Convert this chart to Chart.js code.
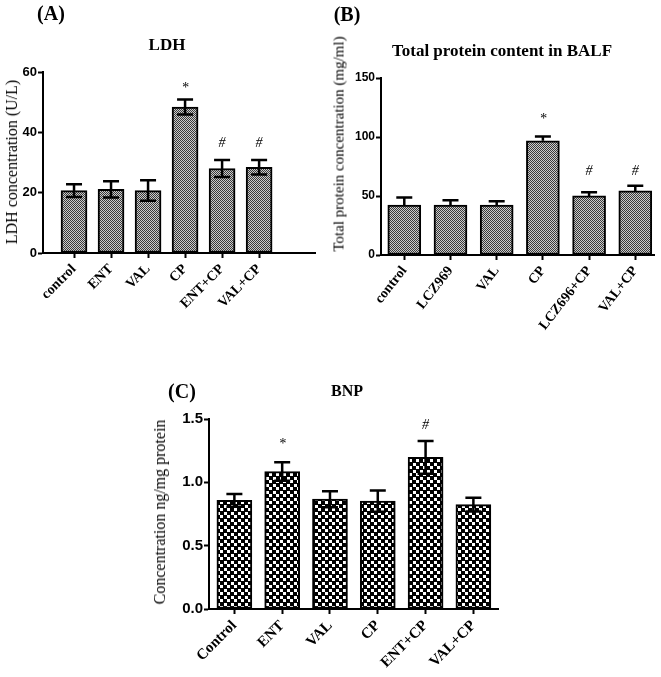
<!DOCTYPE html>
<html>
<head>
<meta charset="utf-8">
<script src="https://cdn.jsdelivr.net/npm/chart.js@4.4.1/dist/chart.umd.min.js"></script>
<style>
body{margin:0;background:#fff;}
#wrap{position:relative;width:661px;height:677px;overflow:hidden;font-family:"Liberation Serif","Times New Roman",serif;color:#000;}
canvas{position:absolute;}
.t{position:absolute;font-weight:bold;white-space:nowrap;transform:translate(-50%,-50%);}
.yt{position:absolute;white-space:nowrap;transform:translate(-50%,-50%) rotate(-90deg);}
</style>
</head>
<body>
<div id="wrap">
  <canvas id="cA" width="330" height="340" style="left:0;top:0"></canvas>
  <canvas id="cB" width="331" height="340" style="left:330px;top:0"></canvas>
  <canvas id="cC" width="360" height="337" style="left:150px;top:340px"></canvas>

  <div class="t" style="left:51px;top:13px;font-size:20px">(A)</div>
  <div class="t" style="left:167px;top:45px;font-size:17px">LDH</div>
  <div class="yt" style="left:12px;top:162px;font-size:16px">LDH concentration (U/L)</div>

  <div class="t" style="left:347px;top:14px;font-size:20px">(B)</div>
  <div class="t" style="left:502px;top:51px;font-size:17px">Total protein content in BALF</div>
  <div class="yt" style="left:339px;top:144px;font-size:15px">Total protein concentration (mg/ml)</div>

  <div class="t" style="left:182px;top:391px;font-size:20px">(C)</div>
  <div class="t" style="left:347px;top:391px;font-size:16px">BNP</div>
  <div class="yt" style="left:160px;top:512px;font-size:16px">Concentration ng/mg protein</div>
</div>
<script>
// (A) LDH
var catsA = ['control', 'ENT', 'VAL', 'CP', 'ENT+CP', 'VAL+CP'];
var ldh = [20.7, 21.1, 20.7, 48.4, 28.0, 28.4];
var ldhErr = [2.1, 2.7, 3.4, 2.5, 2.8, 2.4];
var ldhMark = ['', '', '', '*', '#', '#'];
var ldhMarkAt = [0, 0, 0, 54.6, 36.4, 36.4];
var ticksA = [0, 20, 40, 60];

// (B) total protein in BALF
var catsB = ['control', 'LCZ969', 'VAL', 'CP', 'LCZ696+CP', 'VAL+CP'];
var protein = [42.4, 42.4, 42.4, 96.8, 50.1, 54.3];
var proteinErr = [6.3, 4.0, 3.2, 3.6, 3.1, 4.3];
var proteinMark = ['', '', '', '*', '#', '#'];
var proteinMarkAt = [0, 0, 0, 115.4, 70.7, 70.7];
var ticksB = [0, 50, 100, 150];

// (C) BNP
var catsC = ['Control', 'ENT', 'VAL', 'CP', 'ENT+CP', 'VAL+CP'];
var bnp = [0.857, 1.085, 0.867, 0.852, 1.197, 0.824];
var bnpErr = [0.05, 0.073, 0.063, 0.084, 0.13, 0.055];
var bnpMark = ['', '*', '', '', '#', ''];
var bnpMarkAt = [0, 1.30, 0, 0, 1.45, 0];
var ticksC = [0, 0.5, 1.0, 1.5];

function fineGrey() {
  var t = document.createElement('canvas');
  t.width = 2; t.height = 2;
  var c = t.getContext('2d');
  c.fillStyle = '#cccccc'; c.fillRect(0, 0, 2, 2);
  c.fillStyle = '#3a3a3a'; c.fillRect(0, 0, 1, 1); c.fillRect(1, 1, 1, 1);
  return c.createPattern(t, 'repeat');
}
function checker() {
  var t = document.createElement('canvas');
  t.width = 7; t.height = 7;
  var c = t.getContext('2d');
  c.fillStyle = '#000'; c.fillRect(0, 0, 7, 7);
  c.fillStyle = '#fff'; c.fillRect(0, 0, 3, 3); c.fillRect(4, 4, 3, 3);
  return c.createPattern(t, 'repeat');
}

var errPlugin = {
  id: 'errbars',
  afterDatasetsDraw: function(chart, args, o) {
    var ctx = chart.ctx, xs = chart.scales.x, ys = chart.scales.y;
    var pts = chart.data.datasets[0].data;
    ctx.save();
    ctx.strokeStyle = '#000';
    ctx.fillStyle = '#000';
    ctx.lineWidth = 2.5;
    for (var i = 0; i < pts.length; i++) {
      var x = xs.getPixelForValue(i);
      var yv = ys.getPixelForValue(pts[i].y);
      var yt = ys.getPixelForValue(pts[i].y + o.err[i]);
      var yb = o.lower ? ys.getPixelForValue(pts[i].y - o.err[i]) : yv;
      ctx.beginPath();
      ctx.moveTo(x, yb); ctx.lineTo(x, yt);
      ctx.moveTo(x - o.cap / 2, yt); ctx.lineTo(x + o.cap / 2, yt);
      if (o.lower) { ctx.moveTo(x - o.cap / 2, yb); ctx.lineTo(x + o.cap / 2, yb); }
      ctx.stroke();
      if (o.marks[i]) {
        ctx.font = 'italic 14px "Liberation Serif"';
        ctx.textAlign = 'center';
        ctx.textBaseline = 'middle';
        ctx.fillText(o.marks[i], x, ys.getPixelForValue(o.markAt[i]));
      }
    }
    ctx.restore();
  }
};

function makeChart(id, cats, vals, errs, marks, markAt, yTicks, box, look) {
  return new Chart(document.getElementById(id), {
    type: 'bar',
    data: {
      datasets: [{
        data: vals.map(function(v, i) { return {x: i, y: v}; }),
        backgroundColor: look.fill,
        borderColor: '#000',
        borderWidth: 2,
        borderSkipped: false,
        barThickness: look.barW
      }]
    },
    plugins: [errPlugin],
    options: {
      responsive: false,
      devicePixelRatio: 1,
      animation: false,
      layout: {padding: {left: 0, top: box.top, right: box.right, bottom: 0}},
      plugins: {
        legend: {display: false},
        tooltip: {enabled: false},
        errbars: {err: errs, lower: look.lower, cap: 16, marks: marks, markAt: markAt}
      },
      scales: {
        x: {
          type: 'linear',
          offset: false,
          bounds: 'data',
          min: box.xmin, max: box.xmax,
          afterBuildTicks: function(s) { s.ticks = cats.map(function(c, i) { return {value: i}; }); },
          afterFit: function(s) { s.height = box.xh; s.paddingLeft = 0; s.paddingRight = 0; },
          grid: {offset: false, drawOnChartArea: false, drawTicks: true, tickLength: 5, tickColor: '#000', tickWidth: 2},
          border: {color: '#000', width: 2},
          ticks: {
            autoSkip: false, minRotation: look.rot, maxRotation: look.rot, padding: 3,
            color: '#000',
            font: {family: '"Liberation Serif"', weight: 'bold', size: look.xfont},
            callback: function(v) { return cats[v]; }
          }
        },
        y: {
          min: yTicks[0], max: yTicks[yTicks.length - 1],
          afterBuildTicks: function(s) { s.ticks = yTicks.map(function(v) { return {value: v}; }); },
          afterFit: function(s) { s.width = box.yw; s.paddingTop = 0; s.paddingBottom = 0; },
          grid: {drawOnChartArea: false, drawTicks: true, tickLength: 5, tickColor: '#000', tickWidth: 2},
          border: {color: '#000', width: 2},
          ticks: {
            padding: 1, color: '#000',
            font: {family: '"Liberation Sans"', weight: 'bold', size: look.yfont},
            callback: function(v) { return look.dec ? v.toFixed(look.dec) : v; }
          }
        }
      }
    }
  });
}

var grey = fineGrey();
makeChart('cA', catsA, ldh, ldhErr, ldhMark, ldhMarkAt, ticksA,
  {top: 72, right: 15, xh: 87, yw: 43, xmin: -0.838, xmax: 6.51},
  {fill: grey, barW: 26, lower: true, xfont: 14, yfont: 13, dec: 0, rot: 45});
makeChart('cB', catsB, protein, proteinErr, proteinMark, proteinMarkAt, ticksB,
  {top: 78, right: 7, xh: 85, yw: 51, xmin: -0.504, xmax: 5.405},
  {fill: grey, barW: 33, lower: false, xfont: 14, yfont: 12, dec: 0, rot: 52});
makeChart('cC', catsC, bnp, bnpErr, bnpMark, bnpMarkAt, ticksC,
  {top: 79, right: 12, xh: 68, yw: 59, xmin: -0.531, xmax: 5.515},
  {fill: checker(), barW: 35, lower: true, xfont: 15, yfont: 15, dec: 1, rot: 45});
</script>
</body>
</html>
